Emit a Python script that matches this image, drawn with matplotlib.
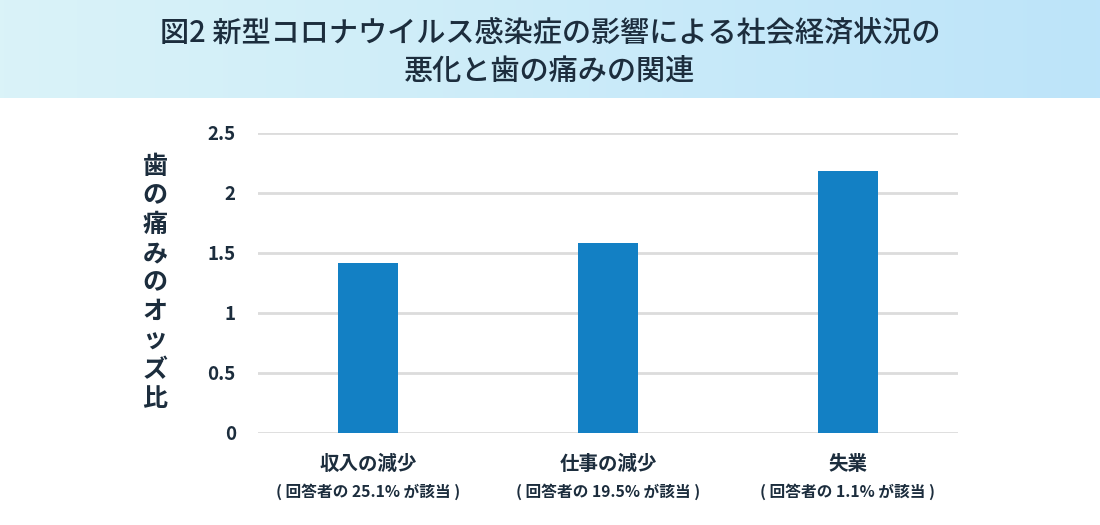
import numpy as np
import matplotlib.pyplot as plt
import matplotlib.colors as mcolors

plt.rcParams['font.family'] = ['Noto Sans CJK JP', 'DejaVu Sans']

categories = ["収入の減少", "仕事の減少", "失業"]
notes = ["( 回答者の 25.1% が該当 )", "( 回答者の 19.5% が該当 )", "( 回答者の 1.1% が該当 )"]
odds = [1.42, 1.58, 2.18]
yticks = [0, 0.5, 1, 1.5, 2, 2.5]
ytick_labels = ["0", "0.5", "1", "1.5", "2", "2.5"]

title = "図2 新型コロナウイルス感染症の影響による社会経済状況の\n悪化と歯の痛みの関連"
ylabel = "歯の痛みのオッズ比"

text_color = "#1c2d3d"
bar_color = "#1380c4"

fig = plt.figure(figsize=(11, 5.25), dpi=100)

# title band with gradient
band = fig.add_axes([0, 1 - 98 / 525, 1, 98 / 525])
grad = np.linspace(0, 1, 256).reshape(1, -1)
cmap = mcolors.LinearSegmentedColormap.from_list("band", ["#daf3f8", "#bde4fa"])
band.imshow(grad, aspect="auto", cmap=cmap, extent=[0, 1, 0, 1])
band.set_xlim(0, 1)
band.set_ylim(0, 1)
band.axis("off")
band.text(0.5, 0.47, title, ha="center", va="center", fontsize=21,
          color=text_color, linespacing=1.28, fontweight="medium")

ax = fig.add_axes([258 / 1100, 1 - 433 / 525, 700 / 1100, 300 / 525])
x = np.arange(len(categories))
ax.bar(x, odds, width=0.25, color=bar_color, zorder=3)
ax.set_xlim(-110 / 240, 2 + 110 / 240)
ax.set_ylim(0, 2.5)
ax.set_yticks(yticks)
ax.set_yticklabels(ytick_labels, fontsize=13.5, fontweight="bold", color=text_color)
ax.set_xticks([])
ax.tick_params(axis="y", length=0, pad=16)
ax.grid(axis="y", color="#dcdcdc", linewidth=2, zorder=0)
for s in ax.spines.values():
    s.set_visible(False)

tr = ax.get_xaxis_transform()
for xi, cat, note in zip(x, categories, notes):
    ax.text(xi, -0.105, cat, transform=tr, ha="center", va="center",
            fontsize=14, fontweight="bold", color=text_color)
    ax.text(xi, -0.195, note, transform=tr, ha="center", va="center",
            fontsize=11.3, fontweight="bold", color=text_color)

fig.text(155 / 1100, 1 - 283 / 525, "\n".join(ylabel), ha="center", va="center",
         fontsize=18, fontweight="bold", color=text_color, linespacing=1.26)

fig.savefig("out.png", dpi=100)
